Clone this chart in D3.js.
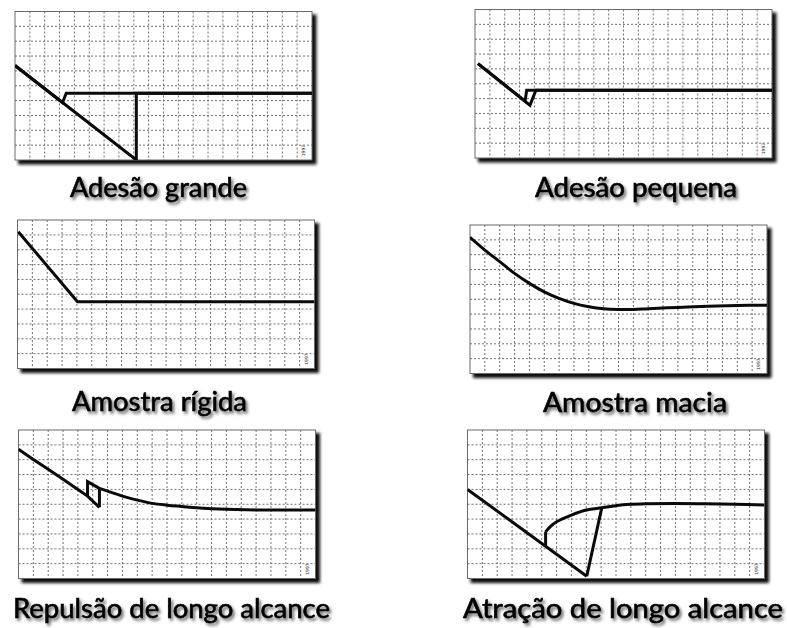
<!DOCTYPE html>
<html>
<head>
<meta charset="utf-8">
<script src="https://cdn.jsdelivr.net/npm/d3@7"></script>
<style>
  html, body { margin: 0; padding: 0; background: #fff; }
  svg { display: block; }
</style>
</head>
<body>
<div id="chart"></div>
<script>
// Force–distance curves, grid units: x = 0..20 cells (piezo travel),
// y = 0..10 cells (cantilever deflection, up is positive).

const titles = [
  "Adesão grande", "Adesão pequena",
  "Amostra rígida", "Amostra macia",
  "Repulsão de longo alcance", "Atração de longo alcance"
];

// Adesão grande
const bigApproach = [[20, 4.5], [3.45, 4.5], [3.2, 3.86], [0, 6.36]];
const bigRetract  = [[0, 6.36], [8.17, 0], [8.17, 4.5], [20, 4.5]];

// Adesão pequena
const smallApproach = [[20, 4.56], [3.48, 4.56], [3.37, 3.82], [0.2, 6.36]];
const smallRetract  = [[0.2, 6.36], [3.7, 3.55], [4.1, 4.56], [20, 4.56]];

// Amostra rígida
const hardCurve = [[0.05, 9.21], [4.04, 4.5], [20, 4.5]];

// Amostra macia
const softCurve = [[0, 9.17], [1, 8.31], [2, 7.53], [3, 6.74], [4, 6.07], [5, 5.5],
  [6, 5.06], [7, 4.72], [8, 4.5], [9, 4.36], [10, 4.31], [11, 4.31], [12, 4.36],
  [14, 4.45], [16, 4.53], [18, 4.58], [20, 4.6]];

// Repulsão de longo alcance
const repContact   = [[0, 8.7], [1, 8.02], [2, 7.35], [3, 6.68], [4, 6.0], [4.65, 5.55], [5.45, 4.79]];
const repSnap      = [[4.65, 5.55], [4.65, 6.52], [5.45, 6.07]];
const repPullOff   = [[5.45, 4.79], [5.45, 6.07]];
const repFarField  = [[5.45, 6.07], [6, 5.88], [7, 5.55], [8, 5.28], [9, 5.06], [10, 4.94],
  [11, 4.85], [12, 4.76], [13, 4.7], [14, 4.66], [16, 4.62], [18, 4.61], [20, 4.61]];

// Atração de longo alcance
const attContact  = [[0, 6.0], [8.03, 0.15]];
const attPullOff  = [[8.03, 0.15], [9.04, 4.76]];
const attFarField = [[20, 4.95], [18, 5.0], [16, 5.03], [14, 5.05], [12, 5.03], [10.7, 4.99],
  [10, 4.9], [9.04, 4.76], [8, 4.61], [7, 4.27], [6, 3.82], [5.56, 3.48], [5.26, 3.14]];
const attSnap     = [[5.26, 3.14], [5.26, 2.17]];

const xCells = d3.range(0, 21);
const yCells = d3.range(0, 11);

// traces per panel: [points, smooth?]
const panelTraces = [
  [[bigApproach, false], [bigRetract, false]],
  [[smallApproach, false], [smallRetract, false]],
  [[hardCurve, false]],
  [[softCurve, true]],
  [[repContact, false], [repSnap, false], [repPullOff, false], [repFarField, true]],
  [[attContact, false], [attPullOff, false], [attFarField, true], [attSnap, false]]
];

const W = 787, H = 628;
const PW = 297, PH = 148.5;
const frames = [
  {x: 15,    y: 11.5, tx: 158.5, ty: 197},
  {x: 475,   y: 9.5,  tx: 636,   ty: 197},
  {x: 17.5,  y: 220,  tx: 159.5, ty: 411},
  {x: 470,   y: 225,  tx: 635,   ty: 411.5},
  {x: 18.5,  y: 430,  tx: 171.5, ty: 618},
  {x: 467.5, y: 430,  tx: 623,   ty: 618}
];
const titleWidths = [177, 202, 175, 184, 317, 320];

const svg = d3.select("#chart").append("svg")
  .attr("width", W).attr("height", H)
  .attr("viewBox", `0 0 ${W} ${H}`);

const defs = svg.append("defs");
const frameShadow = defs.append("filter").attr("id", "frameShadow")
  .attr("x", "-5%").attr("y", "-5%").attr("width", "115%").attr("height", "120%");
frameShadow.append("feGaussianBlur").attr("stdDeviation", 1.4);

const textShadow = defs.append("filter").attr("id", "textShadow")
  .attr("x", "-10%").attr("y", "-30%").attr("width", "130%").attr("height", "170%");
textShadow.append("feDropShadow").attr("dx", 2).attr("dy", 2.5)
  .attr("stdDeviation", 1.7).attr("flood-color", "#000").attr("flood-opacity", 0.6);

const x = d3.scaleLinear().domain([0, 20]).range([0, PW]);
const y = d3.scaleLinear().domain([0, 10]).range([PH, 0]);

frames.forEach((f, i) => {
  const g = svg.append("g").attr("transform", `translate(${f.x},${f.y})`);

  // drop shadow behind the plotting card
  g.append("rect")
    .attr("x", 3).attr("y", 3).attr("width", PW + 1.5).attr("height", PH + 1.5)
    .attr("fill", "#111").attr("filter", "url(#frameShadow)");
  g.append("rect")
    .attr("width", PW).attr("height", PH)
    .attr("fill", "#fff");

  const clipId = "clip" + i;
  defs.append("clipPath").attr("id", clipId)
    .append("rect").attr("width", PW).attr("height", PH);

  // dotted grid
  const grid = g.append("g").attr("stroke", "#707070").attr("stroke-width", 1)
    .attr("stroke-dasharray", "2,2");
  grid.selectAll("line.v").data(xCells.slice(1, -1)).join("line")
    .attr("x1", d => x(d)).attr("x2", d => x(d))
    .attr("y1", 0).attr("y2", PH);
  grid.selectAll("line.h").data(yCells.slice(1, -1)).join("line")
    .attr("y1", d => y(d)).attr("y2", d => y(d))
    .attr("x1", 0).attr("x2", PW);

  // frame outline
  g.append("rect")
    .attr("width", PW).attr("height", PH)
    .attr("fill", "none").attr("stroke", "#6a6a6a").attr("stroke-width", 1);

  // small rotated stamp in the corner
  g.append("text")
    .attr("transform", `translate(${x(19.55)},${y(0.25)}) rotate(-90)`)
    .attr("font-family", "DejaVu Sans, sans-serif")
    .attr("font-size", 4.5).attr("fill", "#333")
    .text("1997");

  const plot = g.append("g").attr("clip-path", `url(#${clipId})`);
  panelTraces[i].forEach(([pts, smooth]) => {
    const line = d3.line().x(d => x(d[0])).y(d => y(d[1]))
      .curve(smooth ? d3.curveCatmullRom.alpha(0.5) : d3.curveLinear);
    plot.append("path")
      .attr("d", line(pts))
      .attr("fill", "none").attr("stroke", "#0a0a0a")
      .attr("stroke-width", 3)
      .attr("stroke-linejoin", "miter").attr("stroke-miterlimit", 3)
      .attr("stroke-linecap", "butt");
  });

  svg.append("text")
    .attr("x", f.tx).attr("y", f.ty)
    .attr("text-anchor", "middle")
    .attr("font-family", "Lato, 'Open Sans', sans-serif")
    .attr("font-size", 26)
    .attr("fill", "#000")
    .attr("stroke", "#000").attr("stroke-width", 0.6)
    .attr("textLength", titleWidths[i])
    .attr("lengthAdjust", "spacingAndGlyphs")
    .attr("filter", "url(#textShadow)")
    .text(titles[i]);
});
</script>
</body>
</html>
